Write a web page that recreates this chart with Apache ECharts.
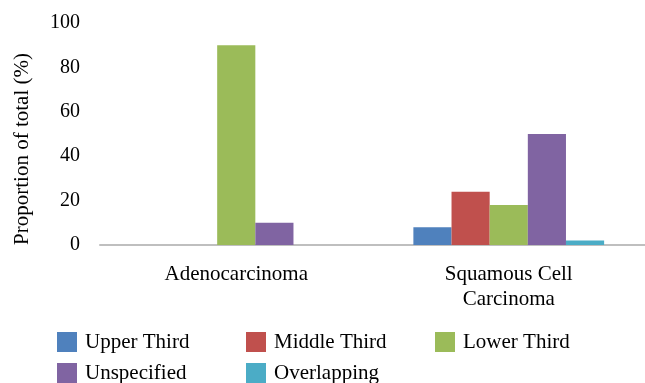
<!DOCTYPE html>
<html>
<head>
<meta charset="utf-8">
<script src="https://cdn.jsdelivr.net/npm/echarts@6/dist/echarts.min.js"></script>
<style>
html, body { margin: 0; padding: 0; background: #fff; }
#chart { width: 645px; height: 383px; }
</style>
</head>
<body>
<div id="chart"></div>
<script>
// 数据
var categories = ['Adenocarcinoma', 'Squamous Cell\nCarcinoma'];
var seriesNames = ['Upper Third', 'Middle Third', 'Lower Third', 'Unspecified', 'Overlapping'];
var upperThird = [0, 8];
var middleThird = [0, 24];
var lowerThird = [90, 18];
var unspecified = [10, 50];
var overlapping = [0, 2];
var yTicks = [0, 20, 40, 60, 80, 100];

var seriesData = [upperThird, middleThird, lowerThird, unspecified, overlapping];
var colors = ['#4f81bd', '#c0504d', '#9bbb59', '#8064a2', '#4bacc6'];
var font = 'Liberation Serif';

var series = seriesNames.map(function (name, i) {
    return {
        name: name,
        type: 'bar',
        barGap: '0%',
        barCategoryGap: '30%',
        itemStyle: { color: colors[i] },
        data: seriesData[i]
    };
});

var option = {
    animation: false,
    textStyle: { fontFamily: font },
    grid: { left: 100, top: 23, width: 549, height: 222, containLabel: false },
    legend: {
        data: seriesNames,
        left: 57,
        top: 330,
        padding: 0,
        width: 580,
        itemWidth: 20,
        itemHeight: 20,
        itemGap: 7,
        icon: 'rect',
        textStyle: {
            fontFamily: font,
            fontSize: 21,
            color: '#000',
            width: 154,
            lineHeight: 24,
            padding: [0, 0, 0, 3]
        }
    },
    xAxis: {
        type: 'category',
        data: categories,
        axisLine: { lineStyle: { color: '#bfbfbf', width: 2 } },
        axisTick: { show: false },
        axisLabel: {
            fontFamily: font,
            fontSize: 21,
            color: '#000',
            lineHeight: 25,
            margin: 17
        }
    },
    yAxis: {
        type: 'value',
        min: yTicks[0],
        max: yTicks[yTicks.length - 1],
        interval: yTicks[1] - yTicks[0],
        name: 'Proportion of total (%)',
        nameLocation: 'middle',
        nameRotate: 90,
        nameGap: 67,
        nameTextStyle: { fontFamily: font, fontSize: 21, color: '#000', padding: [0, 30, 0, 0] },
        axisLine: { show: false },
        axisTick: { show: false },
        splitLine: { show: false },
        axisLabel: { fontFamily: font, fontSize: 20, color: '#000', margin: 20 }
    },
    series: series
};

var myChart = echarts.init(document.getElementById('chart'));
myChart.setOption(option);

window.onresize = function () {
    myChart.resize();
};
</script>
</body>
</html>
